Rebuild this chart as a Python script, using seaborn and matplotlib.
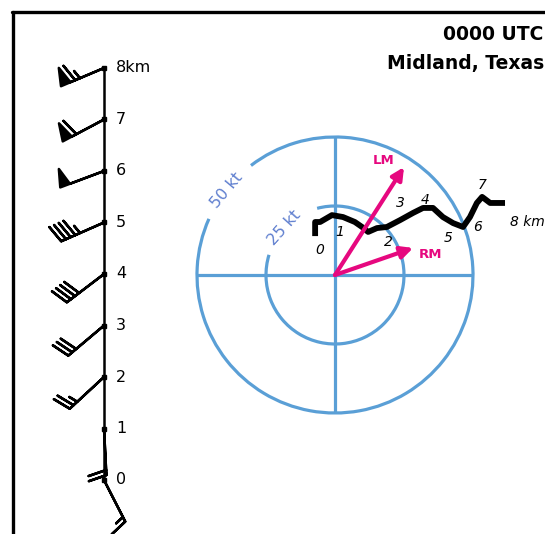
import numpy as np
import matplotlib
matplotlib.use("Agg")
import matplotlib.pyplot as plt
from matplotlib.patches import Arc
from matplotlib.lines import Line2D
import seaborn as sns

# ---- data -------------------------------------------------------------
# hodograph trace: height (km) and wind components (kt)
trace_height = [0.0, 0.2, 0.4, 1.0, 1.2, 1.4, 1.6, 1.75, 1.9, 2.0, 3.0, 3.5,
                4.0, 4.3, 4.6, 5.0, 6.0, 6.3, 6.7, 7.0, 7.3, 7.6, 8.0]
trace_u = [-7.2, -7.2, -5.4, -1.1, 2.9, 7.2, 9.8, 12.0, 15.2, 18.8, 23.6, 28.3,
           31.9, 35.5, 39.1, 42.8, 46.4, 48.9, 51.4, 53.3, 56.2, 58.7, 61.6]
trace_v = [14.1, 19.2, 19.2, 21.7, 21.0, 19.2, 17.4, 15.6, 17.0, 17.4, 19.9, 22.5,
           24.3, 24.3, 21.0, 18.8, 17.4, 21.0, 26.1, 28.3, 26.1, 26.1, 26.1]

# height labels on the hodograph
km_labels = ["0", "1", "2", "3", "4", "5", "6", "7", "8 km"]
km_label_u = [-5.4, 1.8, 19.2, 23.6, 32.6, 40.9, 51.8, 53.3, 63.4]
km_label_v = [9.1, 15.6, 12.0, 26.1, 27.2, 13.4, 17.4, 32.6, 19.2]

# storm motion vectors (kt)
storm_names = ["LM", "RM"]
storm_u = [25.0, 28.3]
storm_v = [39.1, 9.8]
storm_label_u = [17.5, 34.5]
storm_label_v = [41.5, 7.5]

# range rings (kt)
ring_speed = [25, 50]
ring_text = ["25 kt", "50 kt"]

# profile heights and their labels
profile_km = [0, 1, 2, 3, 4, 5, 6, 7, 8]
profile_text = ["0", "1", "2", "3", "4", "5", "6", "7", "8km"]

title_lines = ["0000 UTC", "Midland, Texas"]

# ---- style ------------------------------------------------------------
sns.set_theme(style="white")
plt.rcParams["font.family"] = ["DejaVu Sans"]
plt.rcParams["text.color"] = "black"

BLUE = "#5a9fd6"
LABEL_BLUE = "#5f7fcf"
MAGENTA = "#e6087f"

W, H = 545, 534
fig = plt.figure(figsize=(W / 100, H / 100), dpi=100)
fig.patch.set_facecolor("white")

# ---- hodograph --------------------------------------------------------
cx, cy, px_per_kt = 335.0, 275.0, 2.76
left_px, right_px, top_px, bottom_px = 190.0, 545.0, 118.0, 420.0
axh = fig.add_axes([left_px / W, (H - bottom_px) / H,
                    (right_px - left_px) / W, (bottom_px - top_px) / H])
axh.set_xlim((left_px - cx) / px_per_kt, (right_px - cx) / px_per_kt)
axh.set_ylim((cy - bottom_px) / px_per_kt, (cy - top_px) / px_per_kt)
axh.set_axis_off()
axh.patch.set_alpha(0)

r_in, r_out = ring_speed
# rings with gaps for their labels
axh.add_patch(Arc((0, 0), 2 * r_out, 2 * r_out, theta1=156, theta2=127.5 + 360,
                  color=BLUE, lw=2.3))
axh.add_patch(Arc((0, 0), 2 * r_in, 2 * r_in, theta1=163, theta2=105 + 360,
                  color=BLUE, lw=2.3))
axh.plot([-r_out, r_out], [0, 0], color=BLUE, lw=2.3, solid_capstyle="butt")
axh.plot([0, 0], [-r_out, r_out], color=BLUE, lw=2.3, solid_capstyle="butt")

for r, txt, ang, rot in [(r_in, ring_text[0], 137, 48), (r_out, ring_text[1], 142, 50)]:
    a = np.deg2rad(ang)
    axh.text(r * np.cos(a), r * np.sin(a), txt, color=LABEL_BLUE, fontsize=11.5,
             rotation=rot, ha="center", va="center", rotation_mode="anchor")

# storm motion arrows
for u, v in zip(storm_u, storm_v):
    axh.annotate("", xy=(u, v), xytext=(0, 0),
                 arrowprops=dict(arrowstyle="-|>", color=MAGENTA, lw=3,
                                 mutation_scale=18, shrinkA=0, shrinkB=0))
for name, lu, lv in zip(storm_names, storm_label_u, storm_label_v):
    axh.text(lu, lv, name, color=MAGENTA, fontsize=9.5, fontweight="bold",
             ha="center", va="center")

# hodograph trace
sns.lineplot(x=trace_u, y=trace_v, sort=False, estimator=None, ax=axh,
             color="black", lw=4.2, solid_joinstyle="round", solid_capstyle="butt")

for txt, lu, lv in zip(km_labels, km_label_u, km_label_v):
    axh.text(lu, lv, txt, fontsize=10, fontstyle="italic", color="black",
             ha="left" if "km" in txt else "center", va="center")

# ---- wind profile (barbs) --------------------------------------------
axp = fig.add_axes([0, 0, 200 / W, 1])
base_px, h0_px, px_per_km = 104.0, 480.0, 51.5
axp.set_xlim(-base_px / 100, (200 - base_px) / 100)
axp.set_ylim(-(H - h0_px) / px_per_km, h0_px / px_per_km)
axp.set_axis_off()
axp.patch.set_alpha(0)

idx = [trace_height.index(float(h)) for h in profile_km]
bu = np.array([trace_u[i] for i in idx])
bv = np.array([trace_v[i] for i in idx])
xs = np.zeros(len(profile_km))

sns.lineplot(x=xs, y=profile_km, sort=False, estimator=None, ax=axp,
             color="black", lw=1.8)
axp.plot(xs, profile_km, "s", color="black", ms=3)
axp.barbs(xs, profile_km, bu, bv, length=8.2, linewidth=1.8, color="black",
          sizes=dict(spacing=0.11, height=0.38, width=0.22))
for h, txt in zip(profile_km, profile_text):
    axp.text(0.12, h, txt, fontsize=11.5, ha="left", va="center", color="black")

# ---- title and frame --------------------------------------------------
fig.text(543 / W, 1 - 34 / H, title_lines[0], ha="right", va="center",
         fontsize=13.5, fontweight="bold")
fig.text(544 / W, 1 - 63 / H, title_lines[1], ha="right", va="center",
         fontsize=13.5, fontweight="bold")
fig.add_artist(Line2D([13 / W, 13 / W], [0, 1 - 12 / H], color="black", lw=2.4,
                      transform=fig.transFigure))
fig.add_artist(Line2D([12 / W, 1], [1 - 12 / H, 1 - 12 / H], color="black", lw=2.4,
                      transform=fig.transFigure))

fig.savefig("out.png", dpi=100, facecolor="white")
